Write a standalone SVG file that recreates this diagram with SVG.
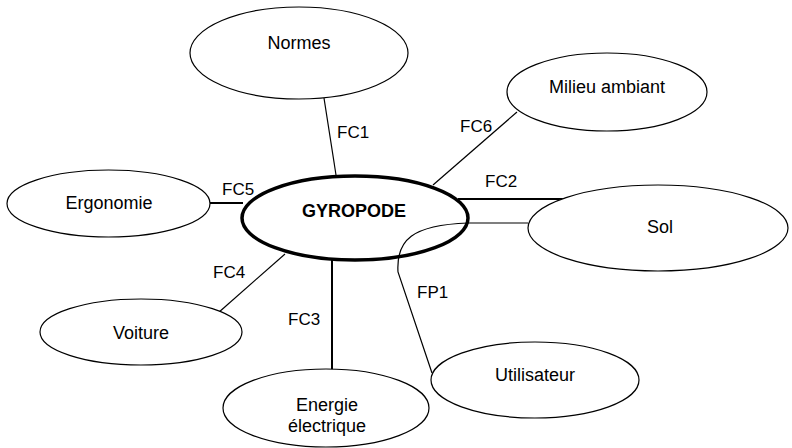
<svg xmlns="http://www.w3.org/2000/svg" width="792" height="448" viewBox="0 0 792 448">
  <style>
    .node { fill: #ffffff; stroke: #000000; stroke-width: 1.2; }
    .main { fill: #ffffff; stroke: #000000; stroke-width: 3.5; }
    .label { font-family: "Liberation Sans", Arial, sans-serif; font-size: 18px; fill: #000000; text-anchor: middle; }
    .title { font-family: "Liberation Sans", Arial, sans-serif; font-size: 18px; font-weight: bold; fill: #000000; text-anchor: middle; }
    .fc { font-family: "Liberation Sans", Arial, sans-serif; font-size: 17px; fill: #000000; }
    .link { fill: none; stroke: #000000; stroke-width: 1.2; }
    .link-bold { fill: none; stroke: #000000; stroke-width: 2; }
  </style>
  <rect width="792" height="448" fill="#ffffff"/>

  <g id="gyropode">
    <ellipse class="main" cx="355" cy="218" rx="113" ry="42"/>
    <text class="title" x="354" y="217">GYROPODE</text>
  </g>

  <!-- connectors between the gyropode and its environment -->
  <g id="connectors">
    <line class="link" x1="324" y1="98" x2="336" y2="175"/>
    <line class="link" x1="517" y1="112" x2="433" y2="185"/>
    <line class="link-bold" x1="458" y1="199" x2="568" y2="199"/>
    <line class="link" x1="468" y1="223" x2="528" y2="223"/>
    <path class="link" d="M 468 223 C 412 225, 396 240, 398 272 L 432 373"/>
    <line class="link-bold" x1="332" y1="260" x2="332" y2="370"/>
    <line class="link" x1="218" y1="313" x2="285" y2="254"/>
    <line class="link-bold" x1="210" y1="203" x2="243" y2="203"/>
    <text class="fc" x="337" y="138">FC1</text>
    <text class="fc" x="460" y="132">FC6</text>
    <text class="fc" x="485" y="187">FC2</text>
    <text class="fc" x="417" y="298">FP1</text>
    <text class="fc" x="288" y="325">FC3</text>
    <text class="fc" x="213" y="278">FC4</text>
    <text class="fc" x="222" y="195">FC5</text>
  </g>

  <g id="normes">
    <ellipse class="node" cx="299" cy="53" rx="109" ry="46"/>
    <text class="label" x="299" y="49">Normes</text>
  </g>

  <g id="milieu-ambiant">
    <ellipse class="node" cx="607" cy="92" rx="100" ry="39"/>
    <text class="label" x="607" y="93">Milieu ambiant</text>
  </g>

  <g id="sol">
    <ellipse class="node" cx="658" cy="228" rx="130" ry="43"/>
    <text class="label" x="660" y="233">Sol</text>
  </g>

  <g id="utilisateur">
    <ellipse class="node" cx="535" cy="380" rx="104" ry="38"/>
    <text class="label" x="535" y="381">Utilisateur</text>
  </g>

  <g id="energie-electrique">
    <ellipse class="node" cx="326" cy="408" rx="103" ry="39"/>
    <text class="label" x="327" y="411">Energie</text>
    <text class="label" x="327" y="432">électrique</text>
  </g>

  <g id="voiture">
    <ellipse class="node" cx="141" cy="332" rx="101" ry="33"/>
    <text class="label" x="141" y="339">Voiture</text>
  </g>

  <g id="ergonomie">
    <ellipse class="node" cx="108.5" cy="203.5" rx="101.5" ry="33.5"/>
    <text class="label" x="109" y="209">Ergonomie</text>
  </g>
</svg>
